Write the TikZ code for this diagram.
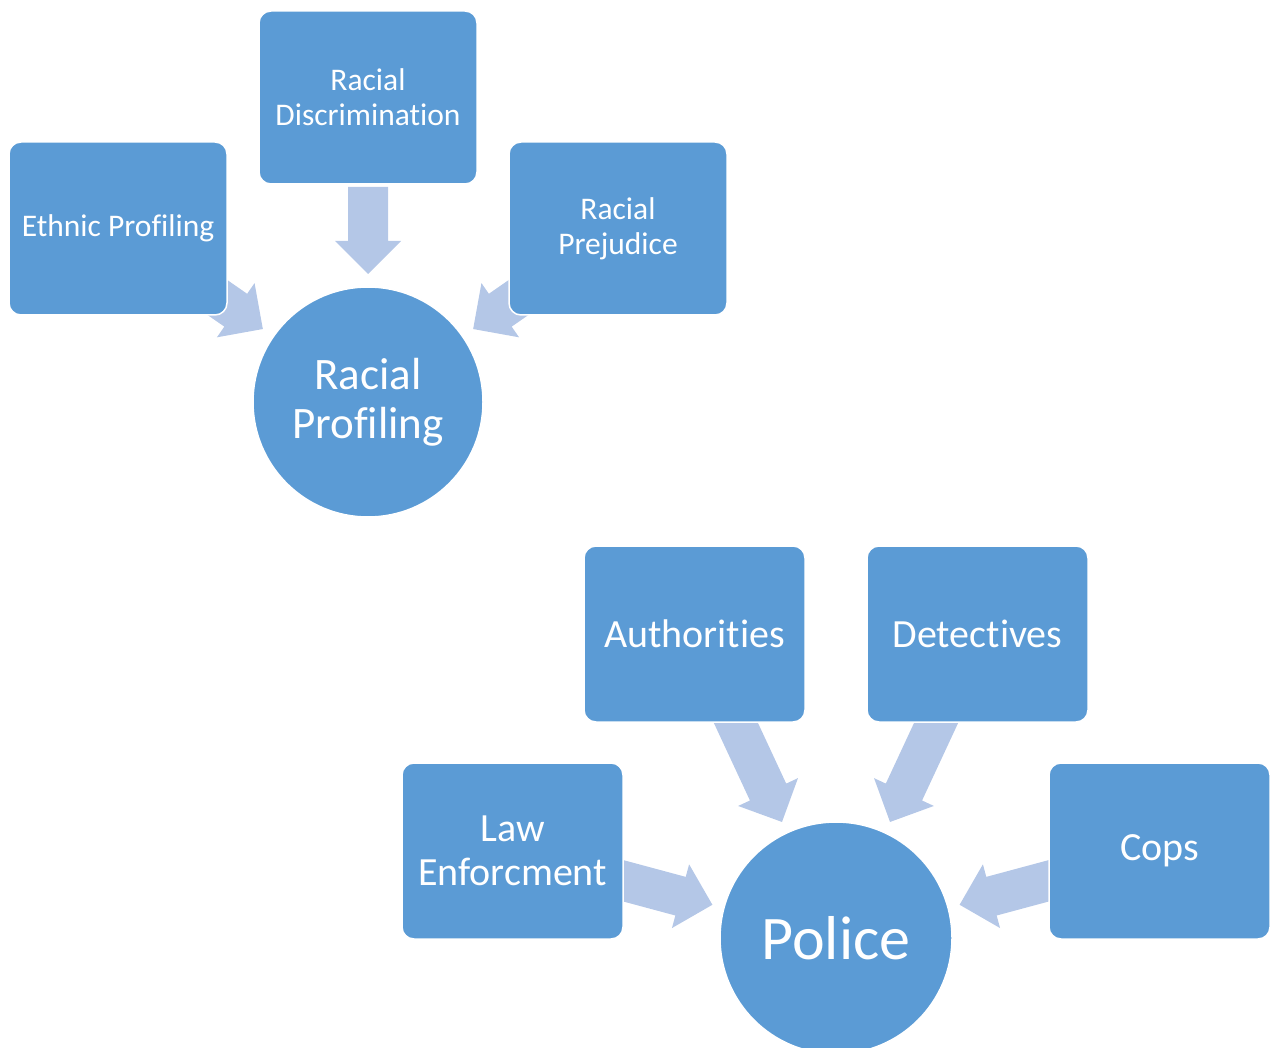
\documentclass[tikz,border=0pt]{standalone}
\usepackage{fontspec}
\setmainfont[Ligatures=NoCommon]{Carlito}
\usetikzlibrary{calc}
\definecolor{boxblue}{HTML}{5B9BD5}
\definecolor{arrblue}{HTML}{B4C7E7}
\newcommand\nolig{\kern0pt{}}
\pgfdeclarelayer{bg}
\pgfsetlayers{bg,main}
\newcommand\blockarrow[3]{%
  \coordinate (ba-h) at ($(#2)!161pt!(#1)$);
  \coordinate (ba-t) at ($(#2)!#3!(#1)$);
  \fill[arr] ($(#2)!128pt!(#1)$) -- ($(ba-h)!33pt!90:(#2)$) -- ($(ba-h)!20pt!90:(#2)$)
    -- ($(ba-t)!20pt!90:(#2)$) -- ($(ba-t)!20pt!-90:(#2)$) -- ($(ba-h)!20pt!-90:(#2)$)
    -- ($(ba-h)!33pt!-90:(#2)$) -- cycle;}
\tikzset{
  arr/.style={fill=arrblue},
  sbox/.style={rectangle, rounded corners=12pt, fill=boxblue, draw=white, line width=1.5pt,
    inner sep=0pt, minimum width=218pt, minimum height=173pt, text=white, align=center,
    font=\fontsize{31.5}{35}\selectfont},
  bbox/.style={sbox, minimum width=221pt, minimum height=176pt, font=\fontsize{40}{44}\selectfont},
  hub/.style={circle, fill=boxblue, draw=white, line width=1.5pt, inner sep=0pt, text=white, align=center}
}
\begin{document}
\begin{tikzpicture}[x=1pt,y=-1pt]
\useasboundingbox (0,0) rectangle (1271,1048);
\clip (0,0) rectangle (1271,1048);
% top group
\node[sbox] (disc) at (368,97.5) {Racial\\Discriminat\nolig ion};
\node[sbox] (ethnic) at (118,228.5) {Ethnic Prof\nolig iling};
\node[sbox] (prej) at (618,228.5) {Racial\\Prejudice};
\node[hub, minimum size=230pt, font=\fontsize{45}{49}\selectfont] (rp) at (368,402) {Racial\\Prof\nolig iling};
% bottom group
\node[bbox] (auth) at (694.5,634) {Authorit\nolig ies};
\node[bbox] (det) at (977.5,634) {Detect\nolig ives};
\node[bbox] (law) at (512.5,851) {Law\\Enforcment};
\node[bbox] (cops) at (1159.5,851) {Cops};
\node[hub, minimum size=232pt, font=\fontsize{62}{66}\selectfont] (police) at (836,938) {Police};
\begin{pgfonlayer}{bg}
\blockarrow{disc}{rp}{215pt}
\blockarrow{ethnic}{rp}{215pt}
\blockarrow{prej}{rp}{215pt}
\blockarrow{auth}{police}{250pt}
\blockarrow{det}{police}{250pt}
\blockarrow{law}{police}{250pt}
\blockarrow{cops}{police}{250pt}
\end{pgfonlayer}
\end{tikzpicture}
\end{document}
